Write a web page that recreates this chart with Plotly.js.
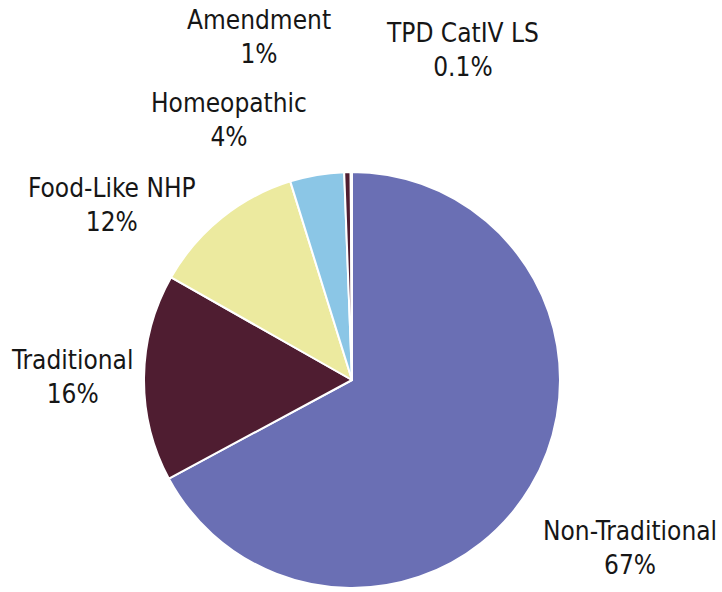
<!DOCTYPE html>
<html><head><meta charset="utf-8">
<script src="https://cdn.plot.ly/plotly-3.0.1.min.js"></script>
<style>html,body{margin:0;padding:0;background:#fff;}</style>
</head><body>
<div id="chart" style="width:722px;height:592px;"></div>
<script>
const categories = ["Non-Traditional", "Traditional", "Food-Like NHP", "Homeopathic", "Amendment", "TPD CatIV LS"];
const values = [67.2, 16.1, 12.0, 4.2, 0.5, 0.1];
const pctLabels = ["67%", "16%", "12%", "4%", "1%", "0.1%"];
const colors = ["#6a6fb4", "#4f1d31", "#ecea9f", "#8bc6e6", "#4f1d31", "#4f1d31"];

// label anchor positions (paper coords) for each category
const labelPos = [[0.873, 0.074], [0.0997, 0.363], [0.155, 0.653], [0.317, 0.797], [0.359, 0.938], [0.640, 0.916]];

const cx = 352, cy = 380, r = 208, W = 722, H = 592;
const data = [{
  type: "pie",
  labels: categories,
  values: values,
  sort: false,
  direction: "clockwise",
  rotation: 0,
  textinfo: "none",
  hoverinfo: "label+percent",
  marker: {colors: colors, line: {color: "#ffffff", width: 2}},
  domain: {x: [(cx - r) / W, (cx + r) / W], y: [(H - cy - r) / H, (H - cy + r) / H]},
  showlegend: false
}];

const annotations = categories.map((c, i) => ({
  xref: "paper", yref: "paper",
  x: labelPos[i][0], y: labelPos[i][1],
  xanchor: "center", yanchor: "middle",
  text: c + "<br>" + pctLabels[i],
  showarrow: false,
  align: "center",
  font: {family: "DejaVu Sans Condensed, DejaVu Sans", size: 26, color: "#161616"}
}));

const layout = {
  width: W, height: H,
  margin: {l: 0, r: 0, t: 0, b: 0},
  paper_bgcolor: "#ffffff",
  annotations: annotations
};
Plotly.newPlot("chart", data, layout, {displayModeBar: false, staticPlot: true});
</script>
</body></html>
